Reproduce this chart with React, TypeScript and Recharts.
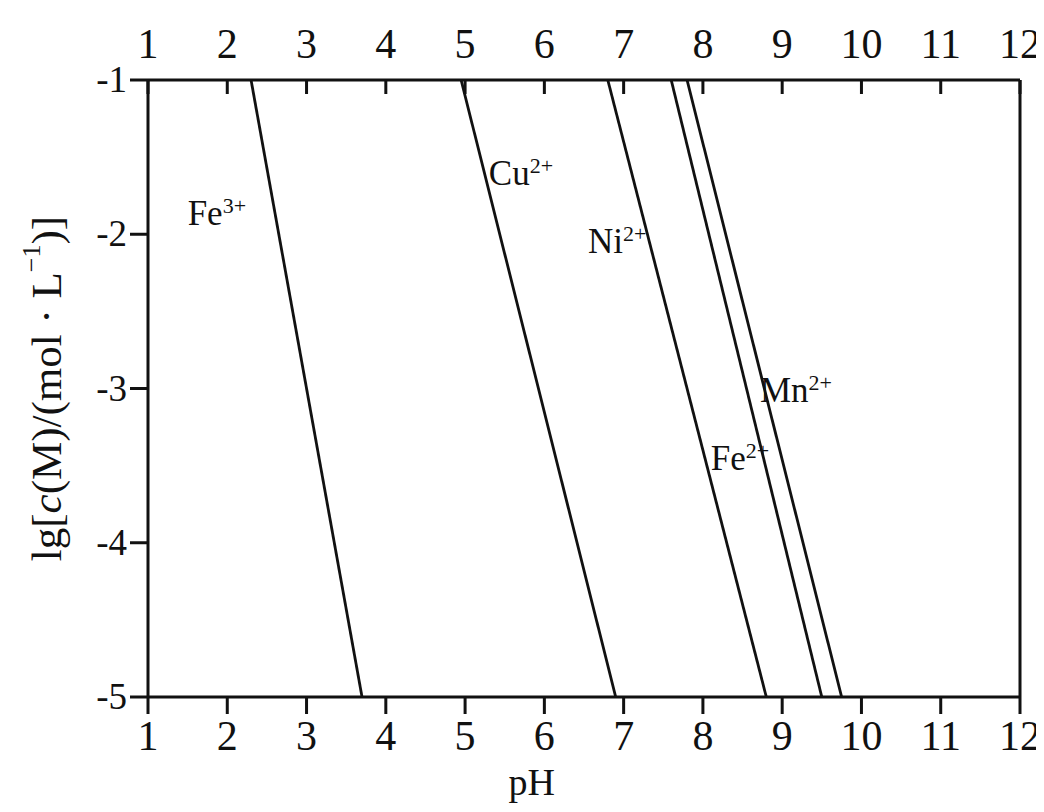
import React from "react";
import {
  ComposedChart,
  Line,
  Scatter,
  XAxis,
  YAxis,
  Label,
} from "recharts";

// pH where each hydroxide starts to precipitate, lg c(M) from -1 down to -5
const ions = ["Fe", "Cu", "Ni", "Fe", "Mn"];
const charges = ["3+", "2+", "2+", "2+", "2+"];
const phAtMinus1 = [2.3, 4.95, 6.8, 7.6, 7.8];
const phAtMinus5 = [3.7, 6.9, 8.8, 9.5, 9.75];

// where the ion names sit (pH, lg c)
const labelPH = [1.5, 5.3, 6.55, 8.1, 8.72];
const labelLg = [-1.94, -1.68, -2.12, -3.53, -3.09];

const phTicks = [1, 2, 3, 4, 5, 6, 7, 8, 9, 10, 11, 12];
const lgTicks = [-1, -2, -3, -4, -5];

const FONT = "'Liberation Serif', 'Times New Roman', serif";
const INK = "#111";

const lines = ions.map((ion, i) => ({
  key: ion + charges[i],
  data: [
    { pH: phAtMinus1[i], lg: -1 },
    { pH: phAtMinus5[i], lg: -5 },
  ],
}));

const labelData = ions.map((ion, i) => ({
  pH: labelPH[i],
  lg: labelLg[i],
  ion,
  charge: charges[i],
}));

const IonLabel = (props: any) => {
  const { cx, cy, payload } = props;
  return (
    <text x={cx} y={cy} fontFamily={FONT} fontSize={35} fill={INK}>
      {payload.ion}
      <tspan fontSize={22} dy={-12}>
        {payload.charge}
      </tspan>
    </text>
  );
};

// top axis: labels above, tick marks pointing into the plot
const TopTick = (props: any) => {
  const { x, y, payload } = props;
  return (
    <g>
      <line x1={x} x2={x} y1={y + 22} y2={y + 36} stroke={INK} strokeWidth={3} />
      <text x={x} y={y} textAnchor="middle" fontFamily={FONT} fontSize={42} fill={INK}>
        {payload.value}
      </text>
    </g>
  );
};

const BottomTick = (props: any) => {
  const { x, y, payload } = props;
  return (
    <text x={x} y={y + 34} textAnchor="middle" fontFamily={FONT} fontSize={42} fill={INK}>
      {payload.value}
    </text>
  );
};

const LeftTick = (props: any) => {
  const { x, y, payload } = props;
  return (
    <text x={x} y={y + 12} textAnchor="end" fontFamily={FONT} fontSize={37} fill={INK}>
      {payload.value}
    </text>
  );
};

const PHLabel = (props: any) => {
  const { viewBox } = props;
  return (
    <text
      x={viewBox.x + viewBox.width * 0.44}
      y={viewBox.y + viewBox.height - 13}
      textAnchor="middle"
      fontFamily={FONT}
      fontSize={38}
      fill={INK}
    >
      pH
    </text>
  );
};

const LgLabel = (props: any) => {
  const { viewBox } = props;
  const cx = viewBox.x + 38;
  const cy = viewBox.y + viewBox.height / 2;
  return (
    <text
      x={cx}
      y={cy}
      transform={`rotate(-90, ${cx}, ${cy})`}
      textAnchor="middle"
      dominantBaseline="central"
      fontFamily={FONT}
      fontSize={43}
      fill={INK}
    >
      lg[<tspan fontStyle="italic">c</tspan>(M)/(mol · L
      <tspan fontSize={26} dy={-15}>
        −1
      </tspan>
      <tspan dy={15}>)]</tspan>
    </text>
  );
};

export default function App() {
  return (
    <div style={{ background: "#fff" }}>
      <ComposedChart
        width={1036}
        height={800}
        margin={{ top: 0, right: 0, bottom: 0, left: 0 }}
      >
        <XAxis
          xAxisId="bottom"
          type="number"
          dataKey="pH"
          domain={[1, 12]}
          ticks={phTicks}
          orientation="bottom"
          height={111}
          axisLine={{ stroke: INK, strokeWidth: 3 }}
          tickLine={{ stroke: INK, strokeWidth: 3 }}
          tickSize={17}
          tickMargin={2}
          tick={<BottomTick />}
          allowDataOverflow
        >
          <Label content={<PHLabel />} />
        </XAxis>
        <XAxis
          xAxisId="top"
          type="number"
          dataKey="pH"
          domain={[1, 12]}
          ticks={phTicks}
          orientation="top"
          height={72}
          axisLine={{ stroke: INK, strokeWidth: 3 }}
          tickLine={false}
          tickSize={0}
          tickMargin={22}
          tick={<TopTick />}
          allowDataOverflow
        />
        <YAxis
          yAxisId="left"
          type="number"
          dataKey="lg"
          domain={[-5, -1]}
          ticks={lgTicks}
          width={140}
          axisLine={{ stroke: INK, strokeWidth: 3 }}
          tickLine={{ stroke: INK, strokeWidth: 3 }}
          tickSize={18}
          tickMargin={3}
          tick={<LeftTick />}
          allowDataOverflow
        >
          <Label content={<LgLabel />} />
        </YAxis>
        <YAxis
          yAxisId="right"
          orientation="right"
          type="number"
          domain={[-5, -1]}
          width={24}
          axisLine={{ stroke: INK, strokeWidth: 3 }}
          tick={false}
          tickLine={false}
        />
        {lines.map((l) => (
          <Line
            key={l.key}
            xAxisId="bottom"
            yAxisId="left"
            data={l.data}
            dataKey="lg"
            stroke={INK}
            strokeWidth={2.8}
            dot={false}
            isAnimationActive={false}
          />
        ))}
        <Scatter
          xAxisId="bottom"
          yAxisId="left"
          data={labelData}
          dataKey="lg"
          shape={<IonLabel />}
          isAnimationActive={false}
        />
      </ComposedChart>
    </div>
  );
}
